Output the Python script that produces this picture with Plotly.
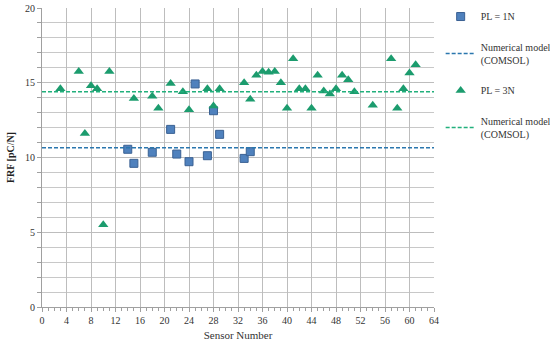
import plotly.graph_objects as go

# ---- data ----
sensors_1N = [14, 15, 18, 21, 22, 24, 25, 27, 28, 29, 33, 34]
frf_1N = [10.55, 9.61, 10.35, 11.88, 10.23, 9.72, 14.92, 10.12, 13.13, 11.55, 9.94, 10.39]

sensors_3N = [3, 6, 7, 8, 9, 10, 11, 15, 18, 19, 21, 23, 24, 27, 28, 29, 33, 34, 35, 36,
              37, 38, 39, 40, 41, 42, 43, 44, 45, 46, 47, 48, 49, 50, 51, 54, 57, 58, 59, 60, 61]
frf_3N = [14.6, 15.75, 11.6, 14.8, 14.6, 5.5, 15.75, 13.95, 14.1, 13.3, 14.95, 14.4, 13.2,
          14.6, 13.45, 14.6, 15.0, 13.9, 15.5, 15.75, 15.7, 15.75, 15.0, 13.3, 16.6, 14.6,
          14.6, 13.3, 15.5, 14.45, 14.25, 14.6, 15.5, 15.2, 14.4, 13.5, 16.6, 13.3, 14.6,
          15.65, 16.2]

model_1N = 10.65
model_3N = 14.4

x_range = [0, 64]
y_range = [0, 20]
x_ticks = list(range(0, 65, 4))
y_ticks = [0, 5, 10, 15, 20]

series_names = ["PL = 1N", "Numerical model<br>(COMSOL)", "PL = 3N", "Numerical model<br>(COMSOL)"]

FONT = "Liberation Serif"
BLUE_FILL = "#4F81BD"
BLUE_EDGE = "#3A6193"
GREEN = "#1C9C6E"
BLUE_DASH = "#2B77AE"
GREEN_DASH = "#22B07C"
GRID = "#BDBDBD"

fig = go.Figure()

fig.add_trace(go.Scatter(
    x=sensors_1N, y=frf_1N, mode="markers", name=series_names[0],
    legendgroup="a",
    marker=dict(symbol="square", size=8, color=BLUE_FILL, line=dict(color=BLUE_EDGE, width=1)),
))
fig.add_trace(go.Scatter(
    x=x_range, y=[model_1N, model_1N], mode="lines", name=series_names[1],
    legendgroup="b",
    line=dict(color=BLUE_DASH, width=1.5, dash="4px,2px"),
))
fig.add_trace(go.Scatter(
    x=sensors_3N, y=frf_3N, mode="markers", name=series_names[2],
    legendgroup="c",
    marker=dict(symbol="triangle-up", size=9, color=GREEN, line=dict(width=0)),
))
fig.add_trace(go.Scatter(
    x=x_range, y=[model_3N, model_3N], mode="lines", name=series_names[3],
    legendgroup="d",
    line=dict(color=GREEN_DASH, width=1.5, dash="4px,2px"),
))

fig.update_layout(
    width=550, height=347,
    margin=dict(l=42, r=116, t=8, b=40, autoexpand=False),
    paper_bgcolor="white", plot_bgcolor="white",
    font=dict(family=FONT, size=10, color="#333333"),
    showlegend=True,
    legend=dict(
        x=1.017, y=1.02, xanchor="left", yanchor="top",
        font=dict(family=FONT, size=10, color="#333333"),
        traceorder="grouped", tracegroupgap=13,
        itemwidth=30, bgcolor="rgba(0,0,0,0)",
    ),
    xaxis=dict(
        range=x_range, tickvals=x_ticks, showgrid=True, gridcolor=GRID, gridwidth=1,
        zeroline=False, showline=True, linecolor="#A0A0A0", linewidth=1,
        ticks="outside", ticklen=4, tickcolor="#A0A0A0", automargin=False,
        minor=dict(dtick=1, ticks="outside", ticklen=3, tickcolor="#A0A0A0", showgrid=False),
        tickfont=dict(family=FONT, size=10, color="#333333"),
        title=dict(text="Sensor Number", font=dict(family=FONT, size=11, color="#333333"), standoff=6),
    ),
    yaxis=dict(
        range=y_range, tickvals=y_ticks, showgrid=True, gridcolor=GRID, gridwidth=1,
        zeroline=False, showline=True, linecolor="#A0A0A0", linewidth=1,
        ticks="outside", ticklen=4, tickcolor="#A0A0A0", automargin=False,
        minor=dict(dtick=1, ticks="outside", ticklen=4, tickcolor="#A0A0A0",
                   showgrid=True, gridcolor="#C8C8C8", gridwidth=1),
        tickfont=dict(family=FONT, size=10, color="#333333"),
        title=dict(text="<b>FRF [pC/N]</b>", font=dict(family=FONT, size=10, color="#222222"), standoff=8),
    ),
)

fig.write_html("out.html", config={"displayModeBar": False},
               post_script="document.body.style.margin='0';")
